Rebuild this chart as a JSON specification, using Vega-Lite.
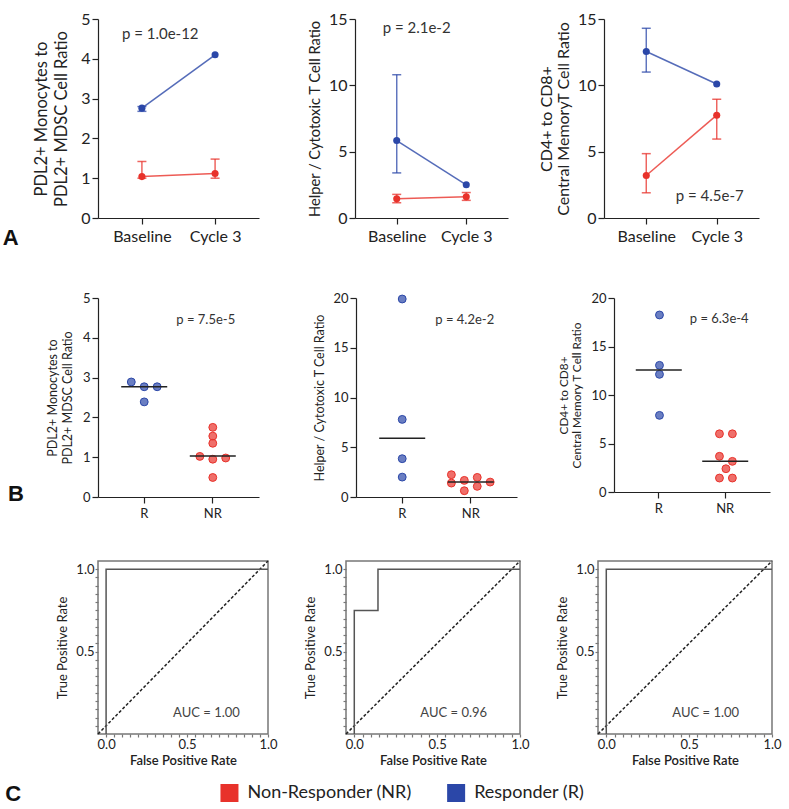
{
  "$schema": "https://vega.github.io/schema/vega-lite/v6.json",
  "background": "white",
  "padding": {"left": 2, "top": 11, "right": 4, "bottom": 2},
  "datasets": {
    "a1": [
      {"time": "Baseline", "group": "Responder (R)", "mean": 2.76, "lo": 2.68, "hi": 2.8},
      {"time": "Cycle 3", "group": "Responder (R)", "mean": 4.1, "lo": null, "hi": null},
      {"time": "Baseline", "group": "Non-Responder (NR)", "mean": 1.04, "lo": 1.0, "hi": 1.42},
      {"time": "Cycle 3", "group": "Non-Responder (NR)", "mean": 1.12, "lo": 1.0, "hi": 1.48}
    ],
    "a2": [
      {"time": "Baseline", "group": "Responder (R)", "mean": 5.84, "lo": 3.4, "hi": 10.8},
      {"time": "Cycle 3", "group": "Responder (R)", "mean": 2.5, "lo": null, "hi": null},
      {"time": "Baseline", "group": "Non-Responder (NR)", "mean": 1.45, "lo": 1.15, "hi": 1.78},
      {"time": "Cycle 3", "group": "Non-Responder (NR)", "mean": 1.6, "lo": 1.33, "hi": 1.92}
    ],
    "a3": [
      {"time": "Baseline", "group": "Responder (R)", "mean": 12.55, "lo": 11.0, "hi": 14.3},
      {"time": "Cycle 3", "group": "Responder (R)", "mean": 10.1, "lo": null, "hi": null},
      {"time": "Baseline", "group": "Non-Responder (NR)", "mean": 3.2, "lo": 1.9, "hi": 4.85},
      {"time": "Cycle 3", "group": "Non-Responder (NR)", "mean": 7.75, "lo": 5.95, "hi": 8.95}
    ],
    "b1": [
      {"cls": "R", "group": "Responder (R)", "slot": "s2", "v": 2.89},
      {"cls": "R", "group": "Responder (R)", "slot": "s4", "v": 2.77},
      {"cls": "R", "group": "Responder (R)", "slot": "s6", "v": 2.77},
      {"cls": "R", "group": "Responder (R)", "slot": "s4", "v": 2.39},
      {"cls": "NR", "group": "Non-Responder (NR)", "slot": "s4", "v": 1.75},
      {"cls": "NR", "group": "Non-Responder (NR)", "slot": "s4", "v": 1.53},
      {"cls": "NR", "group": "Non-Responder (NR)", "slot": "s4", "v": 1.35},
      {"cls": "NR", "group": "Non-Responder (NR)", "slot": "s2", "v": 1.02},
      {"cls": "NR", "group": "Non-Responder (NR)", "slot": "s4", "v": 0.95},
      {"cls": "NR", "group": "Non-Responder (NR)", "slot": "s6", "v": 0.98},
      {"cls": "NR", "group": "Non-Responder (NR)", "slot": "s4", "v": 0.49}
    ],
    "b2": [
      {"cls": "R", "group": "Responder (R)", "slot": "s4", "v": 19.9},
      {"cls": "R", "group": "Responder (R)", "slot": "s4", "v": 7.8},
      {"cls": "R", "group": "Responder (R)", "slot": "s4", "v": 3.85},
      {"cls": "R", "group": "Responder (R)", "slot": "s4", "v": 2.0},
      {"cls": "NR", "group": "Non-Responder (NR)", "slot": "s1", "v": 2.24},
      {"cls": "NR", "group": "Non-Responder (NR)", "slot": "s5", "v": 1.97},
      {"cls": "NR", "group": "Non-Responder (NR)", "slot": "s1", "v": 1.4},
      {"cls": "NR", "group": "Non-Responder (NR)", "slot": "s3", "v": 1.67},
      {"cls": "NR", "group": "Non-Responder (NR)", "slot": "s5", "v": 1.07},
      {"cls": "NR", "group": "Non-Responder (NR)", "slot": "s7", "v": 1.5},
      {"cls": "NR", "group": "Non-Responder (NR)", "slot": "s3", "v": 0.63}
    ],
    "b3": [
      {"cls": "R", "group": "Responder (R)", "slot": "s4", "v": 18.25},
      {"cls": "R", "group": "Responder (R)", "slot": "s4", "v": 13.06},
      {"cls": "R", "group": "Responder (R)", "slot": "s4", "v": 12.13},
      {"cls": "R", "group": "Responder (R)", "slot": "s4", "v": 7.9},
      {"cls": "NR", "group": "Non-Responder (NR)", "slot": "s3", "v": 6.0},
      {"cls": "NR", "group": "Non-Responder (NR)", "slot": "s5", "v": 6.0},
      {"cls": "NR", "group": "Non-Responder (NR)", "slot": "s3", "v": 3.68},
      {"cls": "NR", "group": "Non-Responder (NR)", "slot": "s5", "v": 3.16},
      {"cls": "NR", "group": "Non-Responder (NR)", "slot": "s4", "v": 2.4},
      {"cls": "NR", "group": "Non-Responder (NR)", "slot": "s3", "v": 1.44},
      {"cls": "NR", "group": "Non-Responder (NR)", "slot": "s5", "v": 1.44}
    ],
    "b1m": [{"cls": "R", "v": 2.77}, {"cls": "NR", "v": 1.03}],
    "b2m": [{"cls": "R", "v": 5.9}, {"cls": "NR", "v": 1.5}],
    "b3m": [{"cls": "R", "v": 12.58}, {"cls": "NR", "v": 3.16}],
    "diag": [{"fpr": -0.05, "tpr": 0}, {"fpr": 1.0, "tpr": 1.05}],
    "roc1": [{"i": 1, "fpr": 0, "tpr": 0}, {"i": 2, "fpr": 0, "tpr": 1}, {"i": 3, "fpr": 1, "tpr": 1}],
    "roc2": [{"i": 1, "fpr": 0, "tpr": 0}, {"i": 2, "fpr": 0, "tpr": 0.75}, {"i": 3, "fpr": 0.143, "tpr": 0.75}, {"i": 4, "fpr": 0.143, "tpr": 1}, {"i": 5, "fpr": 1, "tpr": 1}],
    "roc3": [{"i": 1, "fpr": 0, "tpr": 0}, {"i": 2, "fpr": 0, "tpr": 1}, {"i": 3, "fpr": 1, "tpr": 1}],
    "leg": [{"group": "Non-Responder (NR)"}, {"group": "Responder (R)"}]
  },
  "spacing": 43,
  "vconcat": [
    {
      "title": {"text": "A", "orient": "left", "anchor": "start", "angle": 0, "fontSize": 22, "fontWeight": "bold", "font": "Liberation Sans", "color": "#111", "offset": 15, "dy": -16},
      "spacing": 96,
      "bounds": "flush",
      "hconcat": [
        {
          "width": 161, "height": 199,
          "data": {"name": "a1"},
          "encoding": {
            "x": {"field": "time", "type": "ordinal", "sort": ["Baseline", "Cycle 3"], "scale": {"type": "point", "padding": 0.6}, "axis": {"title": null, "labelAngle": 0, "labelFontSize": 16, "tickSize": 6, "labelPadding": 4}},
            "y": {"field": "mean", "type": "quantitative", "scale": {"domain": [0, 5], "nice": false}, "axis": {"title": ["PDL2+  Monocytes to", "PDL2+ MDSC Cell Ratio"], "values": [0, 1, 2, 3, 4, 5], "titleFontSize": 16.5, "titleLineHeight": 20, "labelFontSize": 16, "tickSize": 6, "titlePadding": 11}}
          },
          "layer": [
            {"mark": {"type": "line", "strokeWidth": 1.5, "opacity": 0.8}, "encoding": {"color": {"field": "group", "type": "nominal"}}},
            {"transform": [{"filter": "datum.hi != null"}], "mark": {"type": "errorbar", "ticks": {"size": 9}, "thickness": 1.5, "opacity": 0.75}, "encoding": {"y": {"field": "lo", "type": "quantitative", "title": ["PDL2+  Monocytes to", "PDL2+ MDSC Cell Ratio"]}, "y2": {"field": "hi"}, "color": {"field": "group", "type": "nominal"}}},
            {"mark": {"type": "circle", "size": 50, "opacity": 1}, "encoding": {"color": {"field": "group", "type": "nominal"}}},
            {"data": {"values": [{"time": "Baseline", "mean": 4.62, "label": "p = 1.0e-12"}]}, "mark": {"type": "text", "align": "left", "dx": -20, "fontSize": 15, "color": "#333"}, "encoding": {"text": {"field": "label"}}}
          ]
        },
        {
          "width": 153, "height": 199,
          "data": {"name": "a2"},
          "encoding": {
            "x": {"field": "time", "type": "ordinal", "sort": ["Baseline", "Cycle 3"], "scale": {"type": "point", "padding": 0.6}, "axis": {"title": null, "labelAngle": 0, "labelFontSize": 16, "tickSize": 6, "labelPadding": 4}},
            "y": {"field": "mean", "type": "quantitative", "scale": {"domain": [0, 15], "nice": false}, "axis": {"title": "Helper / Cytotoxic T Cell Ratio", "values": [0, 5, 10, 15], "titleFontSize": 14.7, "labelFontSize": 16, "tickSize": 6, "titlePadding": 6}}
          },
          "layer": [
            {"mark": {"type": "line", "strokeWidth": 1.5, "opacity": 0.8}, "encoding": {"color": {"field": "group", "type": "nominal"}}},
            {"transform": [{"filter": "datum.hi != null"}], "mark": {"type": "errorbar", "ticks": {"size": 9}, "thickness": 1.5, "opacity": 0.75}, "encoding": {"y": {"field": "lo", "type": "quantitative", "title": "Helper / Cytotoxic T Cell Ratio"}, "y2": {"field": "hi"}, "color": {"field": "group", "type": "nominal"}}},
            {"mark": {"type": "circle", "size": 50, "opacity": 1}, "encoding": {"color": {"field": "group", "type": "nominal"}}},
            {"data": {"values": [{"time": "Baseline", "mean": 14.3, "label": "p = 2.1e-2"}]}, "mark": {"type": "text", "align": "left", "dx": -14, "fontSize": 15, "color": "#333"}, "encoding": {"text": {"field": "label"}}}
          ]
        },
        {
          "width": 155, "height": 199,
          "data": {"name": "a3"},
          "encoding": {
            "x": {"field": "time", "type": "ordinal", "sort": ["Baseline", "Cycle 3"], "scale": {"type": "point", "padding": 0.6}, "axis": {"title": null, "labelAngle": 0, "labelFontSize": 16, "tickSize": 6, "labelPadding": 4}},
            "y": {"field": "mean", "type": "quantitative", "scale": {"domain": [0, 15], "nice": false}, "axis": {"title": ["CD4+ to CD8+", "Central  MemoryT Cell Ratio"], "values": [0, 5, 10, 15], "titleFontSize": 16, "titleLineHeight": 17, "labelFontSize": 16, "tickSize": 6, "titlePadding": 6}}
          },
          "layer": [
            {"mark": {"type": "line", "strokeWidth": 1.5, "opacity": 0.8}, "encoding": {"color": {"field": "group", "type": "nominal"}}},
            {"transform": [{"filter": "datum.hi != null"}], "mark": {"type": "errorbar", "ticks": {"size": 9}, "thickness": 1.5, "opacity": 0.75}, "encoding": {"y": {"field": "lo", "type": "quantitative", "title": ["CD4+ to CD8+", "Central  MemoryT Cell Ratio"]}, "y2": {"field": "hi"}, "color": {"field": "group", "type": "nominal"}}},
            {"mark": {"type": "circle", "size": 50, "opacity": 1}, "encoding": {"color": {"field": "group", "type": "nominal"}}},
            {"data": {"values": [{"time": "Cycle 3", "mean": 1.65, "label": "p = 4.5e-7"}]}, "mark": {"type": "text", "align": "center", "dx": -7, "fontSize": 15, "color": "#333"}, "encoding": {"text": {"field": "label"}}}
          ]
        }
      ]
    },
    {
      "spacing": 37,
      "vconcat": [
        {
          "title": {"text": "B", "orient": "left", "anchor": "start", "angle": 0, "fontSize": 22, "fontWeight": "bold", "font": "Liberation Sans", "color": "#111", "offset": 23, "dy": -36},
          "spacing": 97,
          "bounds": "flush",
          "hconcat": [
            {
              "width": 161, "height": 199,
              "encoding": {
                "x": {"field": "cls", "type": "nominal", "sort": ["R", "NR"], "scale": {"type": "band", "paddingInner": 0.34, "paddingOuter": 0.344}, "axis": {"title": null, "labelAngle": 0, "labelFontSize": 13, "tickSize": 6, "labelPadding": 4}},
                "y": {"field": "v", "type": "quantitative", "scale": {"domain": [0, 5], "nice": false}, "axis": {"title": ["PDL2+  Monocytes to", "PDL2+ MDSC Cell Ratio"], "values": [0, 1, 2, 3, 4, 5], "titleFontSize": 12.5, "labelFontSize": 13, "tickSize": 6, "titlePadding": 8}}
              },
              "layer": [
                {"data": {"name": "b1"}, "mark": {"type": "circle", "size": 62, "fillOpacity": 0.7, "strokeWidth": 1}, "encoding": {"xOffset": {"field": "slot", "type": "nominal", "scale": {"domain": ["s1", "s2", "s3", "s4", "s5", "s6", "s7"]}}, "color": {"field": "group", "type": "nominal"}, "stroke": {"field": "group", "type": "nominal"}}},
                {"data": {"name": "b1m"}, "mark": {"type": "tick", "size": 46, "thickness": 1.5, "color": "#222", "opacity": 1}},
                {"data": {"values": [{"cls": "NR", "v": 4.45, "label": "p = 7.5e-5"}]}, "mark": {"type": "text", "align": "center", "dx": -7, "fontSize": 13, "color": "#333"}, "encoding": {"text": {"field": "label"}}}
              ]
            },
            {
              "width": 161, "height": 199,
              "encoding": {
                "x": {"field": "cls", "type": "nominal", "sort": ["R", "NR"], "scale": {"type": "band", "paddingInner": 0.34, "paddingOuter": 0.344}, "axis": {"title": null, "labelAngle": 0, "labelFontSize": 13, "tickSize": 6, "labelPadding": 4}},
                "y": {"field": "v", "type": "quantitative", "scale": {"domain": [0, 20], "nice": false}, "axis": {"title": "Helper / Cytotoxic T Cell Ratio", "values": [0, 5, 10, 15, 20], "titleFontSize": 12.5, "labelFontSize": 13, "tickSize": 6, "titlePadding": 6}}
              },
              "layer": [
                {"data": {"name": "b2"}, "mark": {"type": "circle", "size": 62, "fillOpacity": 0.7, "strokeWidth": 1}, "encoding": {"xOffset": {"field": "slot", "type": "nominal", "scale": {"domain": ["s1", "s2", "s3", "s4", "s5", "s6", "s7"]}}, "color": {"field": "group", "type": "nominal"}, "stroke": {"field": "group", "type": "nominal"}}},
                {"data": {"name": "b2m"}, "mark": {"type": "tick", "size": 46, "thickness": 1.5, "color": "#222", "opacity": 1}},
                {"data": {"values": [{"cls": "NR", "v": 17.8, "label": "p = 4.2e-2"}]}, "mark": {"type": "text", "align": "center", "dx": -6, "fontSize": 13, "color": "#333"}, "encoding": {"text": {"field": "label"}}}
              ]
            },
            {
              "width": 156, "height": 194,
              "encoding": {
                "x": {"field": "cls", "type": "nominal", "sort": ["R", "NR"], "scale": {"type": "band", "paddingInner": 0.34, "paddingOuter": 0.344}, "axis": {"title": null, "labelAngle": 0, "labelFontSize": 13, "tickSize": 6, "labelPadding": 4}},
                "y": {"field": "v", "type": "quantitative", "scale": {"domain": [0, 20], "nice": false}, "axis": {"title": ["CD4+ to CD8+", "Central Memory T Cell Ratio"], "values": [0, 5, 10, 15, 20], "titleFontSize": 11.8, "labelFontSize": 13, "tickSize": 6, "titlePadding": 8}}
              },
              "layer": [
                {"data": {"name": "b3"}, "mark": {"type": "circle", "size": 62, "fillOpacity": 0.7, "strokeWidth": 1}, "encoding": {"xOffset": {"field": "slot", "type": "nominal", "scale": {"domain": ["s1", "s2", "s3", "s4", "s5", "s6", "s7"]}}, "color": {"field": "group", "type": "nominal"}, "stroke": {"field": "group", "type": "nominal"}}},
                {"data": {"name": "b3m"}, "mark": {"type": "tick", "size": 46, "thickness": 1.5, "color": "#222", "opacity": 1}},
                {"data": {"values": [{"cls": "NR", "v": 17.8, "label": "p = 6.3e-4"}]}, "mark": {"type": "text", "align": "center", "dx": -6, "fontSize": 13, "color": "#333"}, "encoding": {"text": {"field": "label"}}}
              ]
            }
          ]
        },
        {
          "spacing": 15,
          "vconcat": [
            {
              "spacing": 78,
              "bounds": "flush",
              "hconcat": [
                {
                  "width": 170, "height": 173,
                  "view": {"stroke": "#777", "strokeWidth": 1.5},
                  "encoding": {
                    "x": {"field": "fpr", "type": "quantitative", "scale": {"domain": [-0.05, 1], "nice": false}, "axis": {"title": "False Positive Rate", "values": [0, 0.05, 0.1, 0.15, 0.2, 0.25, 0.3, 0.35, 0.4, 0.45, 0.5, 0.55, 0.6, 0.65, 0.7, 0.75, 0.8, 0.85, 0.9, 0.95, 1], "labelExpr": "(datum.value == 0 || datum.value == 0.5 || datum.value == 1) ? format(datum.value, '.1f') : ''", "labelFontSize": 13, "titleFontSize": 13, "titleFontWeight": 600, "tickSize": 3, "domain": false, "tickColor": "#777", "labelPadding": 1, "titlePadding": 3, "labelFlush": false}},
                    "y": {"field": "tpr", "type": "quantitative", "scale": {"domain": [0, 1.05], "nice": false}, "axis": {"title": "True Positive Rate", "values": [0.05, 0.1, 0.15, 0.2, 0.25, 0.3, 0.35, 0.4, 0.45, 0.5, 0.55, 0.6, 0.65, 0.7, 0.75, 0.8, 0.85, 0.9, 0.95, 1], "labelExpr": "(datum.value == 0.5 || datum.value == 1) ? format(datum.value, '.1f') : ''", "labelFontSize": 13, "titleFontSize": 13, "tickSize": 3, "domain": false, "tickColor": "#777", "labelPadding": 1, "titlePadding": 6, "labelFlush": false}}
                  },
                  "layer": [
                    {"data": {"name": "diag"}, "mark": {"type": "line", "strokeDash": [3, 2], "strokeWidth": 1.5, "color": "#222"}},
                    {"data": {"name": "roc1"}, "mark": {"type": "line", "strokeWidth": 1.5, "color": "#555"}, "encoding": {"order": {"field": "i", "type": "quantitative"}}},
                    {"data": {"values": [{"fpr": 0.62, "tpr": 0.13, "label": "AUC = 1.00"}]}, "mark": {"type": "text", "fontSize": 13, "color": "#444"}, "encoding": {"text": {"field": "label"}}}
                  ]
                },
                {
                  "width": 174, "height": 173,
                  "view": {"stroke": "#777", "strokeWidth": 1.5},
                  "encoding": {
                    "x": {"field": "fpr", "type": "quantitative", "scale": {"domain": [-0.05, 1], "nice": false}, "axis": {"title": "False Positive Rate", "values": [0, 0.05, 0.1, 0.15, 0.2, 0.25, 0.3, 0.35, 0.4, 0.45, 0.5, 0.55, 0.6, 0.65, 0.7, 0.75, 0.8, 0.85, 0.9, 0.95, 1], "labelExpr": "(datum.value == 0 || datum.value == 0.5 || datum.value == 1) ? format(datum.value, '.1f') : ''", "labelFontSize": 13, "titleFontSize": 13, "titleFontWeight": 600, "tickSize": 3, "domain": false, "tickColor": "#777", "labelPadding": 1, "titlePadding": 3, "labelFlush": false}},
                    "y": {"field": "tpr", "type": "quantitative", "scale": {"domain": [0, 1.05], "nice": false}, "axis": {"title": "True Positive Rate", "values": [0.05, 0.1, 0.15, 0.2, 0.25, 0.3, 0.35, 0.4, 0.45, 0.5, 0.55, 0.6, 0.65, 0.7, 0.75, 0.8, 0.85, 0.9, 0.95, 1], "labelExpr": "(datum.value == 0.5 || datum.value == 1) ? format(datum.value, '.1f') : ''", "labelFontSize": 13, "titleFontSize": 13, "tickSize": 3, "domain": false, "tickColor": "#777", "labelPadding": 1, "titlePadding": 6, "labelFlush": false}}
                  },
                  "layer": [
                    {"data": {"name": "diag"}, "mark": {"type": "line", "strokeDash": [3, 2], "strokeWidth": 1.5, "color": "#222"}},
                    {"data": {"name": "roc2"}, "mark": {"type": "line", "strokeWidth": 1.5, "color": "#555"}, "encoding": {"order": {"field": "i", "type": "quantitative"}}},
                    {"data": {"values": [{"fpr": 0.6, "tpr": 0.13, "label": "AUC = 0.96"}]}, "mark": {"type": "text", "fontSize": 13, "color": "#444"}, "encoding": {"text": {"field": "label"}}}
                  ]
                },
                {
                  "width": 174, "height": 173,
                  "view": {"stroke": "#777", "strokeWidth": 1.5},
                  "encoding": {
                    "x": {"field": "fpr", "type": "quantitative", "scale": {"domain": [-0.05, 1], "nice": false}, "axis": {"title": "False Positive Rate", "values": [0, 0.05, 0.1, 0.15, 0.2, 0.25, 0.3, 0.35, 0.4, 0.45, 0.5, 0.55, 0.6, 0.65, 0.7, 0.75, 0.8, 0.85, 0.9, 0.95, 1], "labelExpr": "(datum.value == 0 || datum.value == 0.5 || datum.value == 1) ? format(datum.value, '.1f') : ''", "labelFontSize": 13, "titleFontSize": 13, "titleFontWeight": 600, "tickSize": 3, "domain": false, "tickColor": "#777", "labelPadding": 1, "titlePadding": 3, "labelFlush": false}},
                    "y": {"field": "tpr", "type": "quantitative", "scale": {"domain": [0, 1.05], "nice": false}, "axis": {"title": "True Positive Rate", "values": [0.05, 0.1, 0.15, 0.2, 0.25, 0.3, 0.35, 0.4, 0.45, 0.5, 0.55, 0.6, 0.65, 0.7, 0.75, 0.8, 0.85, 0.9, 0.95, 1], "labelExpr": "(datum.value == 0.5 || datum.value == 1) ? format(datum.value, '.1f') : ''", "labelFontSize": 13, "titleFontSize": 13, "tickSize": 3, "domain": false, "tickColor": "#777", "labelPadding": 1, "titlePadding": 6, "labelFlush": false}}
                  },
                  "layer": [
                    {"data": {"name": "diag"}, "mark": {"type": "line", "strokeDash": [3, 2], "strokeWidth": 1.5, "color": "#222"}},
                    {"data": {"name": "roc3"}, "mark": {"type": "line", "strokeWidth": 1.5, "color": "#555"}, "encoding": {"order": {"field": "i", "type": "quantitative"}}},
                    {"data": {"values": [{"fpr": 0.6, "tpr": 0.13, "label": "AUC = 1.00"}]}, "mark": {"type": "text", "fontSize": 13, "color": "#444"}, "encoding": {"text": {"field": "label"}}}
                  ]
                }
              ]
            },
            {
              "title": {"text": "C", "orient": "left", "anchor": "middle", "angle": 0, "fontSize": 22, "fontWeight": "bold", "font": "Liberation Sans", "color": "#111", "offset": 69, "dy": -9},
              "width": 680, "height": 20,
              "data": {"name": "leg"},
              "encoding": {
                "x": {"field": "group", "type": "nominal", "scale": {"type": "point", "padding": 1, "align": 0.29}, "axis": null},
                "color": {"field": "group", "type": "nominal"}
              },
              "layer": [
                {"mark": {"type": "square", "size": 324, "opacity": 1, "filled": true}},
                {"mark": {"type": "text", "align": "left", "dx": 18, "fontSize": 18, "color": "#222"}, "encoding": {"text": {"field": "group"}, "color": {"value": "#222"}}}
              ]
            }
          ]
        }
      ]
    }
  ],
  "resolve": {"scale": {"color": "shared", "stroke": "shared"}},
  "config": {
    "font": "Lato",
    "view": {"stroke": null},
    "axis": {"grid": false, "domainColor": "#222", "tickColor": "#222", "labelColor": "#222", "titleColor": "#222", "titleFontWeight": "normal", "labelFont": "Lato", "titleFont": "Lato", "domainWidth": 1.2, "tickWidth": 1.2},
    "scale": {"offsetBandPaddingInner": 0, "offsetBandPaddingOuter": 0},
    "range": {"category": ["#e8322b", "#2b47a8"]},
    "legend": {"disable": true}
  }
}
